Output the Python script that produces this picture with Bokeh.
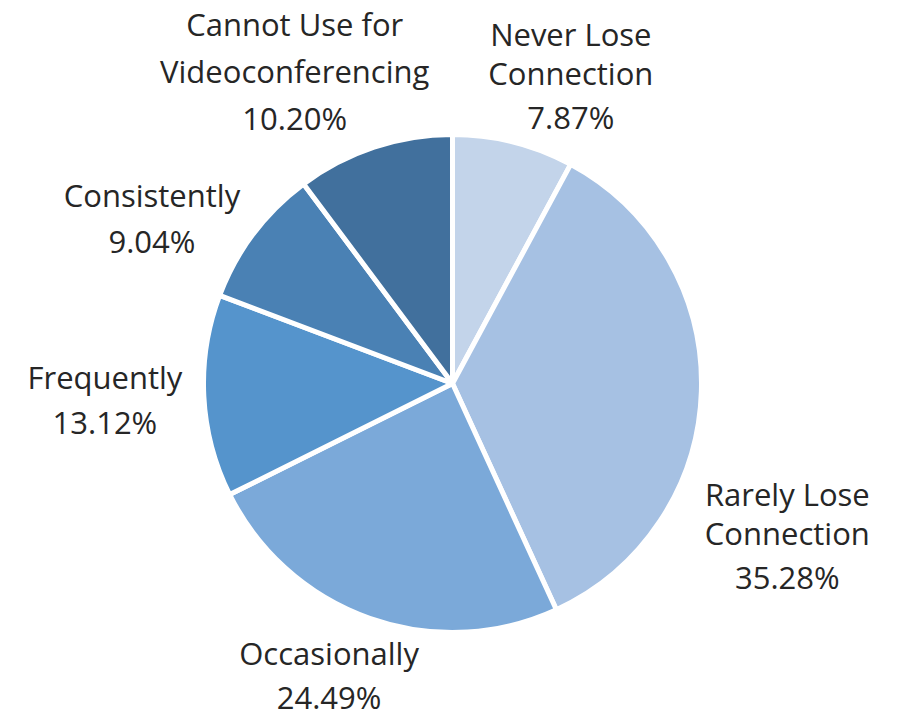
import math
from bokeh.plotting import figure
from bokeh.models import ColumnDataSource, Range1d
from bokeh.core.properties import value
from bokeh.embed import file_html
from bokeh.resources import INLINE

# ---- data ----
categories = ["Never Lose Connection", "Rarely Lose Connection", "Occasionally",
              "Frequently", "Consistently", "Cannot Use for Videoconferencing"]
label_lines = [["Never Lose", "Connection"], ["Rarely Lose", "Connection"], ["Occasionally"],
               ["Frequently"], ["Consistently"], ["Cannot Use for", "Videoconferencing"]]
percents = [7.87, 35.28, 24.49, 13.12, 9.04, 10.20]
colors = ["#c3d4ea", "#a6c1e3", "#7ba9d9", "#5594cc", "#4a81b4", "#41709d"]

# ---- layout ----
W, H = 899, 718
CX, CY = 452, 383          # pie centre in pixels from top-left
R = 249
R_LAB = 320
FS = 31
BASE_SHIFT = -1.5
nudges = [(40, -4), (15, -143), (-17, 9), (-28, -1), (-45, -29), (-57, 7)]
gaps = [[39, 44], [39, 44], [44], [45], [46], [47, 47]]

p = figure(width=W, height=H, output_backend="svg", toolbar_location=None,
           x_range=Range1d(-CX, W - CX), y_range=Range1d(-(H - CY), CY),
           min_border=0, outline_line_color=None)
p.axis.visible = False
p.grid.visible = False
p.background_fill_color = "white"
p.border_fill_color = "white"

total = sum(percents)
starts, ends, mids = [], [], []
cum = 0.0
for v in percents:
    a0 = math.pi / 2 - 2 * math.pi * cum / total
    cum += v
    a1 = math.pi / 2 - 2 * math.pi * cum / total
    starts.append(a0)
    ends.append(a1)
    mids.append((a0 + a1) / 2)

src = ColumnDataSource(dict(start=starts, end=ends, color=colors, cat=categories))
p.wedge(x=0, y=0, radius=R, start_angle="start", end_angle="end", direction="clock",
        fill_color="color", line_color="white", line_width=5, source=src)

xs, ys, xo, yo, txt = [], [], [], [], []
for i, m in enumerate(mids):
    ax, ay = R_LAB * math.cos(m), R_LAB * math.sin(m)
    lines = label_lines[i] + [f"{percents[i]:.2f}%"]
    offs = [0.0]
    for g in gaps[i]:
        offs.append(offs[-1] + g)
    mid_off = (offs[0] + offs[-1]) / 2
    for j, t in enumerate(lines):
        xs.append(ax)
        ys.append(ay)
        xo.append(nudges[i][0])
        yo.append(-nudges[i][1] + offs[j] - mid_off + BASE_SHIFT)
        txt.append(t)

lsrc = ColumnDataSource(dict(x=xs, y=ys, xo=xo, yo=yo, text=txt))
p.text(x="x", y="y", text="text", x_offset="xo", y_offset="yo", source=lsrc,
       text_align="center", text_baseline="alphabetic",
       text_font=value("Open Sans"), text_font_size=f"{FS}px", text_color="#262626")

open("out.html", "w").write(file_html(p, INLINE))
